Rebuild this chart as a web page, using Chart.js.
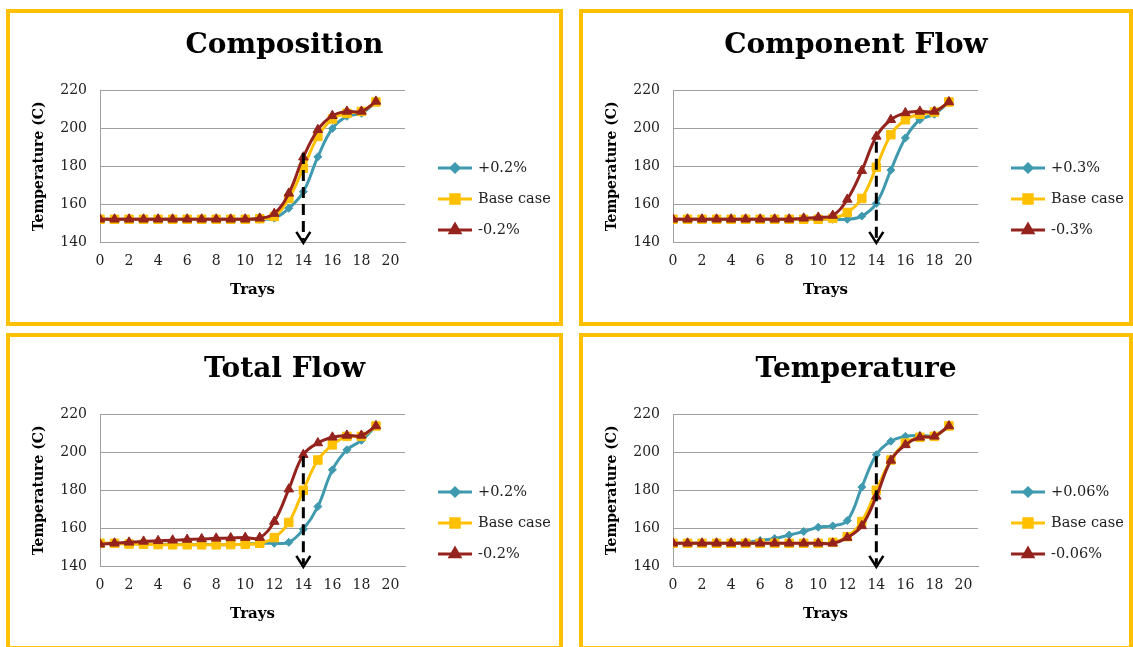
<!DOCTYPE html>
<html>
<head>
<meta charset="utf-8">
<script src="https://cdn.jsdelivr.net/npm/chart.js@4.4.0/dist/chart.umd.min.js"></script>
<style>
  body { margin: 0; width: 1133px; height: 647px; overflow: hidden; background: #fff; }
  .panel { position: absolute; border: 4px solid #FFC000; background: #fff; }
  .panel canvas { display: block; }
</style>
</head>
<body>
<div class="panel" style="left:6px;top:9px;"><canvas id="c0" width="549" height="309"></canvas></div>
<div class="panel" style="left:579px;top:9px;"><canvas id="c1" width="546" height="309"></canvas></div>
<div class="panel" style="left:6px;top:333px;"><canvas id="c2" width="549" height="309"></canvas></div>
<div class="panel" style="left:579px;top:333px;"><canvas id="c3" width="546" height="309"></canvas></div>
<script>
// trays on the x axis
const trays = [0, 1, 2, 3, 4, 5, 6, 7, 8, 9, 10, 11, 12, 13, 14, 15, 16, 17, 18, 19];
const xTicks = [0, 2, 4, 6, 8, 10, 12, 14, 16, 18, 20];
const yTicks = [140, 160, 180, 200, 220];

// Composition
const compPlus  = [152, 152, 152, 152, 152, 152, 152, 152, 152, 152, 152, 152, 152.6, 157.8, 166.6, 185, 200, 206.4, 208, 214];
const compBase  = [152, 152, 152, 152, 152, 152, 152, 152, 152, 152, 152, 152.3, 153.5, 163, 179, 195.8, 205, 208, 209, 214];
const compMinus = [152, 152, 152, 152, 152, 152, 152, 152, 152, 152, 152, 152.5, 155, 165.7, 184.8, 199.3, 206.7, 209, 209, 214.3];

// Component Flow
const flowPlus  = [152, 152, 152, 152, 152, 152, 152, 152, 152, 152, 152, 152, 152, 153.7, 160.4, 178, 195, 204.6, 207.5, 214];
const flowBase  = [152, 152, 152, 152, 152, 152, 152, 152, 152, 152, 152, 152.5, 155.6, 163, 179.5, 196.7, 204.6, 207.5, 208.7, 214];
const flowMinus = [152, 152, 152, 152, 152, 152, 152, 152, 152, 152.5, 153, 154, 162.5, 177.7, 195.8, 204.6, 208.2, 209, 209, 214];

// Total Flow
const totalPlus  = [152, 152, 151.8, 151.6, 151.5, 151.4, 151.3, 151.3, 151.3, 151.3, 151.5, 152, 152, 152.5, 159.4, 171.4, 190.8, 201.4, 206.4, 214];
const totalBase  = [152, 152, 151.6, 151.5, 151.3, 151.2, 151.2, 151.2, 151.2, 151.3, 151.5, 152, 155, 163, 180, 196, 204, 208.5, 208.5, 214];
const totalMinus = [151.5, 152, 152.5, 153, 153.3, 153.6, 154, 154.3, 154.6, 154.8, 155, 155, 163.5, 180.6, 198.8, 205, 208, 209, 209, 214];

// Temperature
const tempPlus  = [152, 152, 152, 152, 152, 152.5, 153.5, 154.5, 156.4, 158.2, 160.5, 161.2, 164, 181.7, 198.8, 205.9, 208.5, 209, 209, 214];
const tempBase  = [152, 152, 152, 152, 152, 152, 152, 152, 152, 152, 152, 152.5, 155.5, 163.5, 180, 196, 205, 208, 208.5, 214];
const tempMinus = [152, 152, 152, 152, 152, 152, 152, 152, 152, 152, 152, 152, 155, 161.2, 176.8, 195.8, 204, 208, 208.5, 214];

const titles = ['Composition', 'Component Flow', 'Total Flow', 'Temperature'];
const legendNames = [
  ['+0.2%', 'Base case', '-0.2%'],
  ['+0.3%', 'Base case', '-0.3%'],
  ['+0.2%', 'Base case', '-0.2%'],
  ['+0.06%', 'Base case', '-0.06%']
];
const seriesSets = [
  [compPlus, compBase, compMinus],
  [flowPlus, flowBase, flowMinus],
  [totalPlus, totalBase, totalMinus],
  [tempPlus, tempBase, tempMinus]
];

// dashed arrow at tray 14: starts at these temperatures, ends just under the axis
const arrowTray = 14;
const arrowTops = [187, 193, 198, 198];
const arrowTip = 139.5;

const colors = ['#3F9AAF', '#FFC000', '#94231E'];
const shapes = ['rectRot', 'rect', 'triangle'];
const radii = [4, 6, 5.5];
const drawOrder = [2, 1, 0];

const SERIF = "'DejaVu Serif', 'Liberation Serif', serif";
Chart.defaults.font.family = SERIF;
Chart.defaults.color = '#000';

// legend on the right: line + marker + label
const sideLegend = {
  id: 'sideLegend',
  afterDraw(chart) {
    const ctx = chart.ctx;
    chart.data.datasets.forEach((ds, i) => {
      const y = 155 + i * 31;
      ctx.save();
      ctx.strokeStyle = ds.borderColor;
      ctx.lineWidth = 3;
      ctx.beginPath(); ctx.moveTo(428, y); ctx.lineTo(462, y); ctx.stroke();
      ctx.fillStyle = ds.borderColor;
      Chart.helpers.drawPoint(ctx, { pointStyle: ds.pointStyle, radius: ds.pointRadius, borderWidth: 1, rotation: 0 }, 445, y);
      ctx.fillStyle = '#222';
      ctx.font = '14.5px ' + SERIF;
      ctx.textBaseline = 'middle';
      ctx.textAlign = 'left';
      ctx.fillText(ds.label, 468, y);
      ctx.restore();
    });
  }
};

// dashed arrow pointing at tray 14
const arrowMark = {
  id: 'arrowMark',
  afterDatasetsDraw(chart, args, opts) {
    const ctx = chart.ctx;
    const xs = chart.scales.x, ys = chart.scales.y;
    const x = xs.getPixelForValue(arrowTray);
    const top = ys.getPixelForValue(opts.top);
    const tip = ys.getPixelForValue(arrowTip);
    ctx.save();
    ctx.strokeStyle = '#000';
    ctx.lineWidth = 3;
    ctx.setLineDash([11, 6]);
    ctx.beginPath(); ctx.moveTo(x, top); ctx.lineTo(x, tip - 3); ctx.stroke();
    ctx.setLineDash([]);
    ctx.lineWidth = 2.5;
    ctx.beginPath();
    ctx.moveTo(x - 7, tip - 11); ctx.lineTo(x, tip); ctx.lineTo(x + 7, tip - 11);
    ctx.stroke();
    ctx.restore();
  }
};

function makeChart(p) {
  const canvas = document.getElementById('c' + p);
  const W = canvas.width;
  const datasets = seriesSets[p].map((vals, i) => ({
    label: legendNames[p][i],
    data: trays.map((t, k) => ({ x: t, y: vals[k] })),
    borderColor: colors[i],
    backgroundColor: colors[i],
    pointBackgroundColor: colors[i],
    pointBorderColor: colors[i],
    pointStyle: shapes[i],
    pointRadius: radii[i],
    pointBorderWidth: 1,
    borderWidth: 3,
    tension: 0.4,
    order: drawOrder[i]
  }));
  return new Chart(canvas, {
    type: 'line',
    data: { datasets },
    options: {
      responsive: false,
      animation: false,
      events: [],
      layout: { padding: { left: 0, right: 0, top: 0, bottom: 20 } },
      plugins: {
        legend: { display: false },
        tooltip: { enabled: false },
        title: {
          display: true,
          text: titles[p],
          font: { family: SERIF, size: 28, weight: 'bold' },
          color: '#000',
          padding: { top: 16, bottom: 28 }
        },
        arrowMark: { top: arrowTops[p] }
      },
      scales: {
        x: {
          type: 'linear',
          min: 0,
          max: 21,
          afterBuildTicks: s => { s.ticks = xTicks.map(v => ({ value: v })); },
          afterFit: s => { s.height = 60; },
          ticks: { padding: 11, font: { size: 14 }, color: '#222', maxRotation: 0, autoSkip: false },
          grid: { display: false, drawTicks: false },
          border: { display: true, color: '#a0a0a0', width: 1 },
          title: { display: true, text: 'Trays', font: { size: 15, weight: 'bold' }, color: '#000', padding: { top: 0, bottom: 3 } }
        },
        y: {
          min: yTicks[0],
          max: yTicks[yTicks.length - 1],
          afterBuildTicks: s => { s.ticks = yTicks.map(v => ({ value: v })); },
          afterFit: s => { s.width = 90; },
          ticks: { padding: 13, font: { size: 14 }, color: '#222' },
          grid: { color: '#a0a0a0', lineWidth: 1, drawTicks: false },
          border: { display: true, color: '#a0a0a0', width: 1 },
          title: { display: true, text: 'Temperature (C)', font: { size: 14, weight: 'bold' }, color: '#000', padding: { top: 21, bottom: 0 } }
        },
        // empty right-hand box that keeps room for the legend
        side: {
          type: 'linear',
          position: 'right',
          min: 0,
          max: 1,
          afterFit: s => { s.width = W - 395; },
          ticks: { display: false },
          grid: { display: false, drawTicks: false },
          border: { display: false }
        }
      }
    },
    plugins: [sideLegend, arrowMark]
  });
}

[0, 1, 2, 3].forEach(makeChart);
</script>
</body>
</html>
